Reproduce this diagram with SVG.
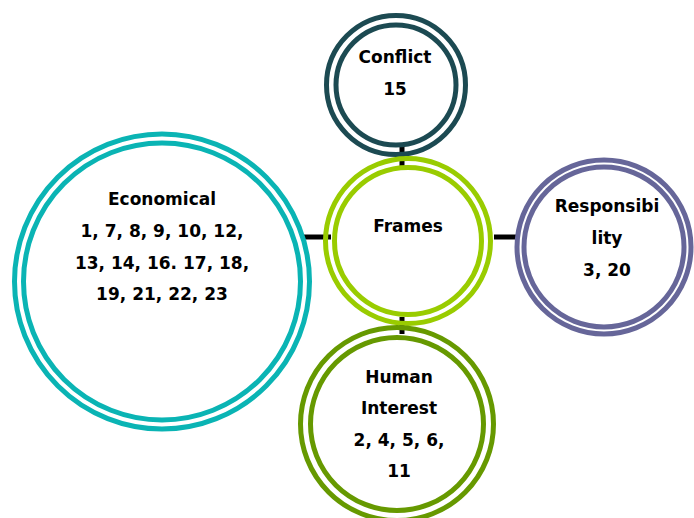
<svg xmlns="http://www.w3.org/2000/svg" width="694" height="518" viewBox="0 0 694 518">
<style>
.ring{fill:none;stroke-width:5}
.lbl{font-family:"DejaVu Sans","Liberation Sans",sans-serif;font-weight:bold;font-size:17px;fill:#000;text-anchor:middle}
.con{stroke:#000;stroke-width:5;fill:none}
</style>
<rect width="694" height="518" fill="#fff"/>
<g id="connectors">
<line class="con" x1="402" y1="146" x2="402" y2="166"/>
<line class="con" x1="303" y1="237" x2="331" y2="237"/>
<line class="con" x1="494" y1="237" x2="518" y2="237"/>
<line class="con" x1="402" y1="317" x2="402" y2="334"/>
</g>
<g id="conflict">
<circle class="ring" cx="396" cy="85" r="69.5" stroke="#1c4a52"/>
<circle class="ring" cx="396" cy="85" r="60" stroke="#1c4a52"/>
<text class="lbl" x="395" y="63">Conflict</text>
<text class="lbl" x="395" y="95">15</text>
</g>
<g id="frames">
<circle class="ring" cx="408" cy="241" r="82.5" stroke="#99cc00"/>
<circle class="ring" cx="408" cy="241" r="73.5" stroke="#99cc00"/>
<text class="lbl" x="408" y="232">Frames</text>
</g>
<g id="responsibility">
<circle class="ring" cx="604" cy="247" r="87" stroke="#666699"/>
<circle class="ring" cx="604" cy="247" r="80" stroke="#666699"/>
<text class="lbl" x="607" y="212">Responsibi</text>
<text class="lbl" x="607" y="244">lity</text>
<text class="lbl" x="607" y="276">3, 20</text>
</g>
<g id="economical">
<circle class="ring" cx="162" cy="281.5" r="147.5" stroke="#0ab4b4"/>
<circle class="ring" cx="162" cy="281.5" r="138.5" stroke="#0ab4b4"/>
<text class="lbl" x="162" y="205">Economical</text>
<text class="lbl" x="162" y="237">1, 7, 8, 9, 10, 12,</text>
<text class="lbl" x="162" y="269">13, 14, 16. 17, 18,</text>
<text class="lbl" x="162" y="300">19, 21, 22, 23</text>
</g>
<g id="human-interest">
<circle class="ring" cx="397" cy="424" r="96.5" stroke="#669900"/>
<circle class="ring" cx="397" cy="424" r="86.5" stroke="#669900"/>
<text class="lbl" x="399" y="383">Human</text>
<text class="lbl" x="399" y="414">Interest</text>
<text class="lbl" x="399" y="446">2, 4, 5, 6,</text>
<text class="lbl" x="399" y="477">11</text>
</g>
</svg>
